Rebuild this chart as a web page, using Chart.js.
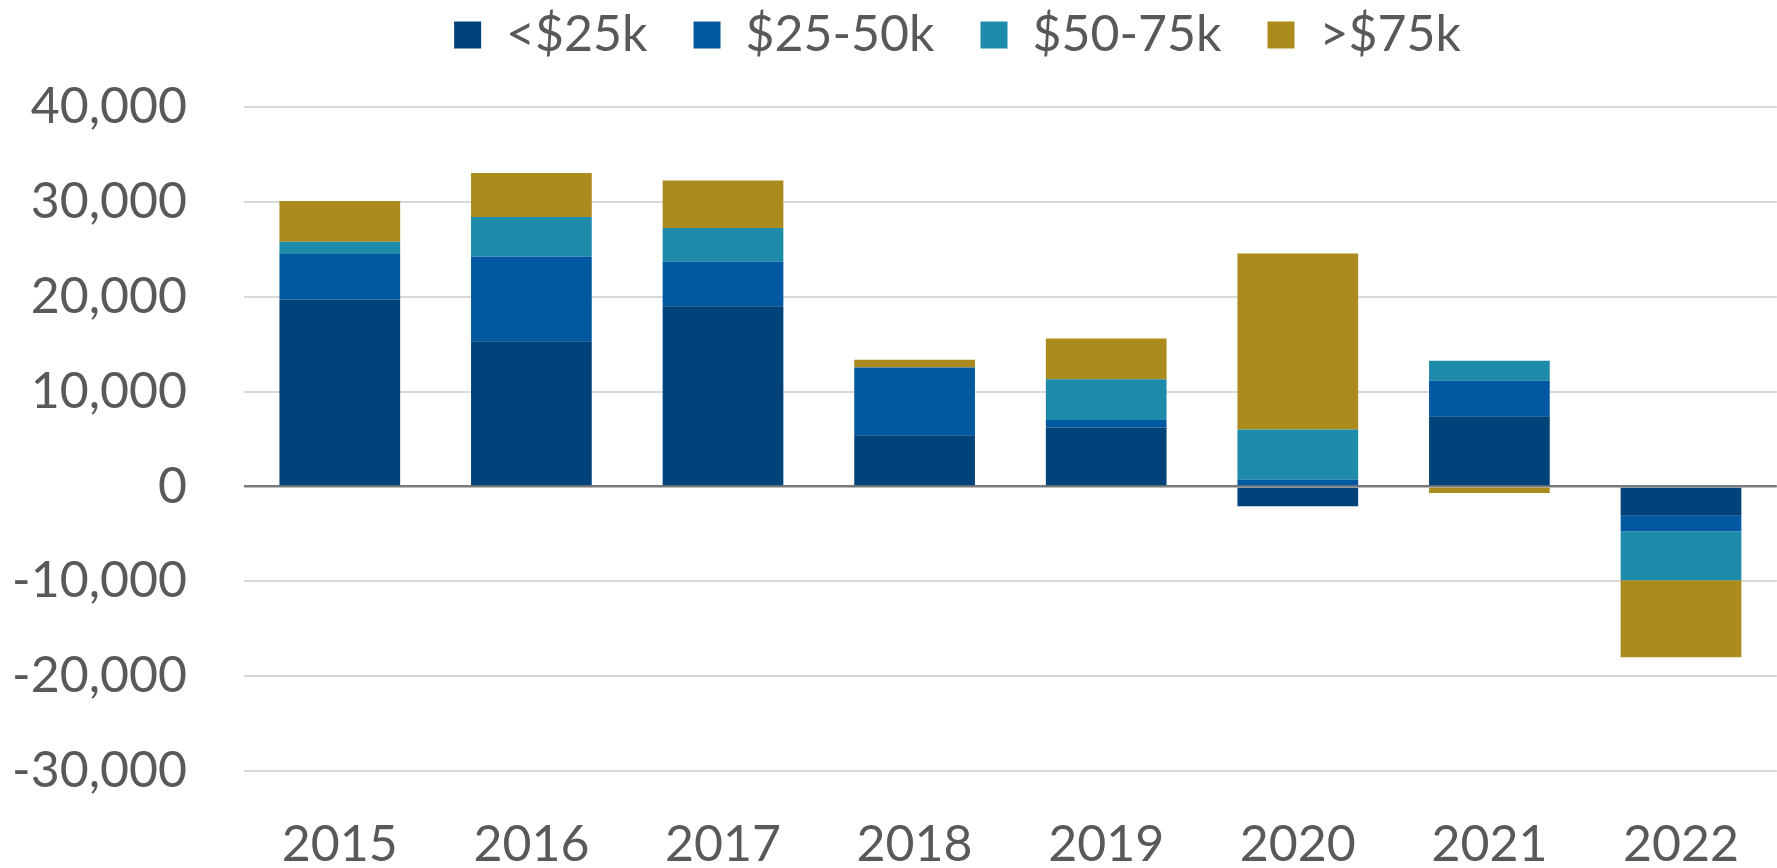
<!DOCTYPE html>
<html>
<head>
<meta charset="utf-8">
<script src="https://cdn.jsdelivr.net/npm/chart.js@4"></script>
<style>
  html,body{margin:0;padding:0;background:#fff;overflow:hidden;}
  #wrap{width:1783px;height:868px;}
</style>
</head>
<body>
<div id="wrap"><canvas id="chart"></canvas></div>
<script>
const years  = ["2015","2016","2017","2018","2019","2020","2021","2022"];
const lt25   = [19700, 15300, 19000, 5400, 6200, -2100, 7400, -3100];
const b25_50 = [4800, 8950, 4700, 7150, 800, 700, 3750, -1650];
const b50_75 = [1300, 4150, 3550, 0, 4300, 5300, 2100, -5150];
const gt75   = [4300, 4650, 5000, 800, 4300, 18550, -700, -8100];
const yTicks = [-30000, -20000, -10000, 0, 10000, 20000, 30000, 40000];

const GREY = "#595959";
const FONT = {family:"Lato", size:50};

function ds(label, data, color){
  return {label, data, backgroundColor:color, borderWidth:0,
          barPercentage:0.63, categoryPercentage:1};
}

// legend sits a bit right of canvas centre, near the top edge,
// and leaves room above the plot
const legendTweak = {
  id:"legendTweak",
  beforeInit(chart){
    const fit = chart.legend.fit;
    chart.legend.fit = function(){
      fit.bind(chart.legend)();
      this.height += 1;
    };
  },
  afterLayout(chart){
    const lg = chart.legend;
    lg.left += 66; lg.right += 66;
    lg.top -= 36; lg.bottom -= 36;
  }
};

new Chart(document.getElementById("chart"), {
  type:"bar",
  data:{
    labels:years,
    datasets:[
      ds("<$25k", lt25, "#00427a"),
      ds("$25-50k", b25_50, "#0059a0"),
      ds("$50-75k", b50_75, "#1d8ba9"),
      ds(">$75k", gt75, "#ab8b1d")
    ]
  },
  options:{
    responsive:true,
    maintainAspectRatio:false,
    animation:false,
    layout:{padding:0},
    plugins:{
      legend:{
        position:"top",
        labels:{boxWidth:27, boxHeight:27, padding:46, color:GREY, font:FONT}
      },
      tooltip:{enabled:false}
    },
    scales:{
      x:{
        stacked:true,
        grid:{display:false, drawTicks:false},
        border:{display:false},
        ticks:{color:GREY, font:FONT, padding:44, maxRotation:0},
        afterFit(s){ s.height = 97; }
      },
      y:{
        stacked:true,
        min:yTicks[0],
        max:yTicks[yTicks.length-1],
        afterBuildTicks(s){ s.ticks = yTicks.map(v=>({value:v})); },
        grid:{
          drawTicks:false,
          color:c=>c.tick && c.tick.value===0 ? "#7a7a7a" : "#d9d9d9",
          lineWidth:c=>c.tick && c.tick.value===0 ? 2.5 : 2
        },
        border:{display:false},
        ticks:{
          color:GREY, font:FONT, padding:57,
          callback:v=>Number(v).toLocaleString("en-US")
        },
        afterFit(s){ s.width = 244; }
      }
    }
  },
  plugins:[legendTweak]
});
</script>
</body>
</html>
